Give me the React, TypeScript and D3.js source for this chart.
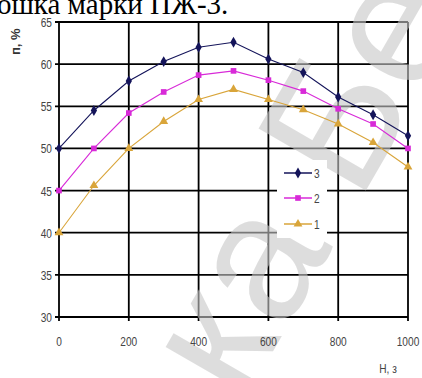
import React from "react";
import * as d3 from "d3";

const hValues = [0, 100, 200, 300, 400, 500, 600, 700, 800, 900, 1000];
const series3 = [50, 54.5, 58, 60.3, 62, 62.6, 60.6, 59.0, 56.1, 54.0, 51.5];
const series2 = [45, 50, 54.2, 56.7, 58.7, 59.2, 58.1, 56.8, 54.7, 52.9, 50.0];
const series1 = [40, 45.6, 50, 53.2, 55.8, 57.0, 55.8, 54.6, 52.9, 50.7, 47.8];
const xTicks = [0, 200, 400, 600, 800, 1000];
const yTicks = [30, 35, 40, 45, 50, 55, 60, 65];
const seriesNames = ["3", "2", "1"];

const W = 422;
const H = 378;
const x = d3.scaleLinear().domain([0, 1000]).range([59, 408]);
const y = d3.scaleLinear().domain([30, 65]).range([317, 22]);

const seriesDefs = [
  { name: seriesNames[0], values: series3, color: "#14145a", shape: d3.symbolDiamond, size: 34 },
  { name: seriesNames[1], values: series2, color: "#d82ad8", shape: d3.symbolSquare, size: 32 },
  { name: seriesNames[2], values: series1, color: "#d9a53a", shape: d3.symbolTriangle, size: 34 },
];

const tickFont = "'Liberation Sans', Arial, sans-serif";

function NarrowText(props: { x: number; y: number; anchor?: string; size?: number; children: React.ReactNode }) {
  const sx = 0.78;
  return (
    <g transform={`translate(${props.x},${props.y}) scale(${sx},1)`}>
      <text
        x={0}
        y={0}
        textAnchor={props.anchor || "middle"}
        fontFamily={tickFont}
        fontSize={props.size || 13}
        fill="#444"
      >
        {props.children}
      </text>
    </g>
  );
}

export default function App() {
  const line = d3
    .line<number>()
    .x((_, i) => x(hValues[i]))
    .y((d) => y(d));
  const legendY = [173, 198, 224];
  return (
    <svg
      width={W}
      height={H}
      style={{ position: "absolute", left: 0, top: 0, background: "#fff" }}
    >
      <rect x={0} y={0} width={W} height={H} fill="#fff" />
      <text
        x={-3}
        y={14}
        fontFamily="'Liberation Serif', 'Times New Roman', serif"
        fontSize={29}
        fill="#000"
      >
        ошка марки ПЖ-3.
      </text>
      {/* grid */}
      {yTicks.map((t) => (
        <line key={"h" + t} x1={x(0) - 4} x2={x(1000)} y1={y(t)} y2={y(t)} stroke="#000" strokeWidth={1.8} />
      ))}
      {xTicks.map((t) => (
        <line key={"v" + t} x1={x(t)} x2={x(t)} y1={y(65)} y2={y(30) + 4} stroke="#000" strokeWidth={1.8} />
      ))}
      {/* watermark */}
      <text
        transform="translate(242,405) rotate(-60)"
        fontFamily="'Liberation Sans', Arial, sans-serif"
        fontSize={180}
        fill="#c8c8c8"
        opacity={0.6}
      >
        ка Бе
      </text>
      {/* tick labels */}
      {yTicks.map((t) => (
        <NarrowText key={"yl" + t} x={52} y={y(t) + 5} anchor="end">
          {t}
        </NarrowText>
      ))}
      {xTicks.map((t) => (
        <NarrowText key={"xl" + t} x={x(t)} y={346}>
          {t}
        </NarrowText>
      ))}
      <text
        transform="translate(20,55) rotate(-90)"
        fontFamily="'Liberation Sans', Arial, sans-serif"
        fontSize={13}
        fontWeight="bold"
        fill="#333"
      >
        п, %
      </text>
      <NarrowText x={388} y={373}>Н, з</NarrowText>
      {/* series */}
      {seriesDefs.map((s) => (
        <g key={s.name}>
          <path d={line(s.values) || ""} fill="none" stroke={s.color} strokeWidth={1.1} />
          {s.values.map((v, i) => (
            <path
              key={i}
              d={d3.symbol().type(s.shape).size(s.size)() || ""}
              transform={`translate(${x(hValues[i])},${y(v)})`}
              fill={s.color}
            />
          ))}
        </g>
      ))}
      {/* legend */}
      <rect x={277} y={160} width={50} height={78} fill="#fff" />
      {seriesDefs.map((s, i) => (
        <g key={"lg" + s.name}>
          <line x1={284} x2={312} y1={legendY[i]} y2={legendY[i]} stroke={s.color} strokeWidth={1.5} />
          <path
            d={d3.symbol().type(s.shape).size(s.size)() || ""}
            transform={`translate(298,${legendY[i]})`}
            fill={s.color}
          />
          <NarrowText x={314} y={legendY[i] + 5} anchor="start">
            {s.name}
          </NarrowText>
        </g>
      ))}
    </svg>
  );
}
